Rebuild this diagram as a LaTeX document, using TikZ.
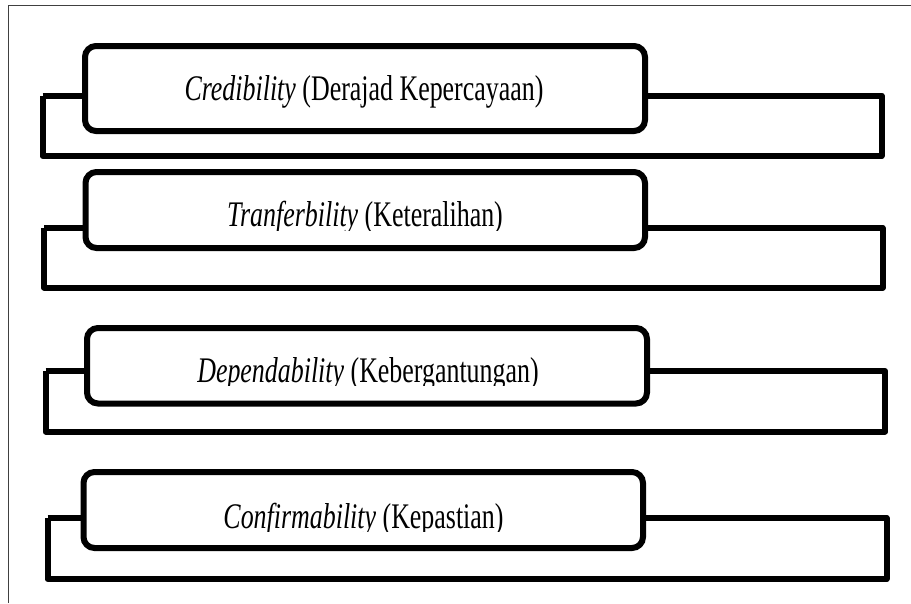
\documentclass[tikz,border=0pt]{standalone}
\usepackage{fontspec}
\setmainfont[FakeStretch=0.72]{Liberation Serif}
\begin{document}
\begin{tikzpicture}[x=1pt,y=-1pt,
  box/.style={draw=black,line width=6pt,rounded corners=11pt,fill=white,inner sep=0pt,outer sep=0pt},
  bracket/.style={draw=black,line width=6pt,line join=round},
  lbl/.style={anchor=base,inner sep=0pt,font=\fontsize{36}{40}\selectfont},
  frame/.style={draw=black!75,line width=1.5pt}]
\useasboundingbox (0,0) rectangle (911,603);
% outer frame (left and top only)
\coordinate (fa) at (8.5,603);
\coordinate (fb) at (8.5,5.5);
\coordinate (fc) at (911,5.5);
\draw[frame] (fa) -- (fb) -- (fc);

% group 1
\coordinate (L1) at (42.5,95.5);
\coordinate (R1) at (881.5,156);
\draw[bracket] (L1) |- (R1) |- (L1 -| 645,0);
\draw[bracket] (L1) -- (85,95.5);
\node[box,minimum width=560pt,minimum height=85pt] (b1) at (365,88.5) {};
\node[lbl] (t1) at (364,100) {\textit{Credibility} (Derajad Kepercayaan)};

% group 2
\coordinate (L2) at (44,228);
\coordinate (R2) at (882.5,287.5);
\draw[bracket] (L2) |- (R2) |- (L2 -| 645,0);
\draw[bracket] (L2) -- (86,228);
\node[box,minimum width=559.5pt,minimum height=76pt] (b2) at (365.25,210) {};
\begin{scope}
\clip (0,0) rectangle (911,230);
\node[lbl] (t2) at (365,226) {\textit{Tranferbility} (Keteralihan)};
\end{scope}

% group 3
\coordinate (L3) at (45.5,371);
\coordinate (R3) at (885,431.5);
\draw[bracket] (L3) |- (R3) |- (L3 -| 647,0);
\draw[bracket] (L3) -- (87,371);
\node[box,minimum width=560pt,minimum height=75.5pt] (b3) at (367,365.75) {};
\begin{scope}
\clip (0,0) rectangle (911,385.5);
\node[lbl] (t3) at (368,382) {\textit{Dependability} (Kebergantungan)};
\end{scope}

% group 4
\coordinate (L4) at (47.5,518);
\coordinate (R4) at (886.5,579);
\draw[bracket] (L4) |- (R4) |- (L4 -| 643,0);
\draw[bracket] (L4) -- (84,518);
\node[box,minimum width=559.5pt,minimum height=76pt] (b4) at (363.25,510) {};
\begin{scope}
\clip (0,0) rectangle (911,531);
\node[lbl] (t4) at (363.5,528) {\textit{Confirmability} (Kepastian)};
\end{scope}
\end{tikzpicture}
\end{document}
